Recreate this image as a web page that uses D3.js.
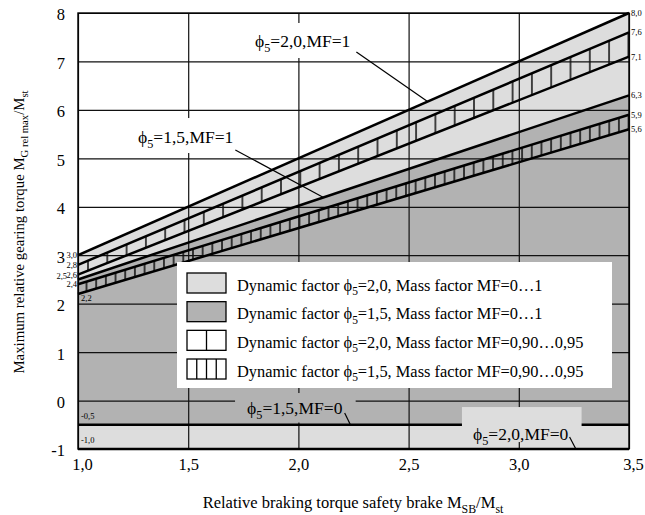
<!DOCTYPE html>
<html>
<head>
<meta charset="utf-8">
<script src="https://cdn.jsdelivr.net/npm/d3@7"></script>
<style>
  body { margin: 0; background: #fff; }
  svg { display: block; }
  svg text { font-family: 'Liberation Serif', 'Times New Roman', serif; fill: #000; }
</style>
</head>
<body>
<div id="chart"></div>
<script>
'use strict'

// braking torque ratio at both ends of every line
const brakeRatio = [1.0, 3.5]

// gearing torque ratio at those two points, one pair per line
const phi20MF1 = [3.0, 8.0]
const phi20MF095 = [2.8, 7.6]
const phi20MF090 = [2.6, 7.1]
const phi15MF1 = [2.5, 6.3]
const phi15MF095 = [2.4, 5.9]
const phi15MF090 = [2.2, 5.6]
const phi15MF0 = [-0.5, -0.5]
const phi20MF0 = [-1.0, -1.0]

const xTicks = [1.0, 1.5, 2.0, 2.5, 3.0, 3.5]
const yTicks = [-1, 0, 1, 2, 3, 4, 5, 6, 7, 8]

const legendPhi = ['2,0', '1,5', '2,0', '1,5']
const legendMF = ['0…1', '0…1', '0,90…0,95', '0,90…0,95']

const lightGray = '#dddddd'
const darkGray = '#b2b2b2'

const width = 645
const height = 515
const plotLeft = 78
const plotRight = 629
const plotTop = 13
const plotBottom = 449

const locale = d3.formatLocale({ decimal: ',', thousands: '.', grouping: [3], currency: ['', ''], minus: '-' })
const fmt1 = locale.format('.1f')
const fmt0 = locale.format('d')

const x = d3.scaleLinear().domain([1, 3.5]).range([plotLeft, plotRight])
const y = d3.scaleLinear().domain([-1, 8]).range([plotBottom, plotTop])

const svg = d3.select('#chart').append('svg')
  .attr('width', width)
  .attr('height', height)

const defs = svg.append('defs')
hatch('hatchWide', 88, 19.3)
hatch('hatchDense', 86.5, 9.68)

function hatch (id, x0, step) {
  const p = defs.append('pattern')
    .attr('id', id)
    .attr('patternUnits', 'userSpaceOnUse')
    .attr('x', x0 - step / 2)
    .attr('y', 0)
    .attr('width', step)
    .attr('height', height)
  p.append('line')
    .attr('x1', step / 2)
    .attr('x2', step / 2)
    .attr('y1', 0)
    .attr('y2', height)
    .attr('stroke', '#000')
    .attr('stroke-width', 1.4)
}

function band (lo, hi) {
  return d3.area()
    .x(d => x(d))
    .y0((d, i) => y(lo[i]))
    .y1((d, i) => y(hi[i]))(brakeRatio)
}

// value of a line at some braking ratio
function valueAt (series, b) {
  return d3.scaleLinear().domain(brakeRatio).range(series)(b)
}

// text with phi and a subscript 5
function phiText (sel, before, after, size) {
  sel.append('tspan').text(before + 'ϕ')
  sel.append('tspan')
    .attr('font-size', size * 0.7)
    .attr('dy', size * 0.28)
    .text('5')
  sel.append('tspan')
    .attr('dy', -size * 0.28)
    .text(after)
}

// fills
svg.append('path').attr('d', band(phi20MF0, phi20MF1)).attr('fill', lightGray)
svg.append('path').attr('d', band(phi15MF0, phi15MF1)).attr('fill', darkGray)
svg.append('path').attr('d', band(phi20MF090, phi20MF095)).attr('fill', 'url(#hatchWide)')
svg.append('path').attr('d', band(phi15MF090, phi15MF095)).attr('fill', 'url(#hatchDense)')

// grid and tick labels
const xAxis = svg.append('g')
  .attr('transform', 'translate(0,' + plotBottom + ')')
  .call(d3.axisBottom(x).tickValues(xTicks).tickSize(-(plotBottom - plotTop)).tickPadding(9).tickFormat(fmt1))

const yAxis = svg.append('g')
  .attr('transform', 'translate(' + plotLeft + ',0)')
  .call(d3.axisLeft(y).tickValues(yTicks).tickSize(-(plotRight - plotLeft)).tickPadding(13).tickFormat(fmt0))

;[xAxis, yAxis].forEach(function (g) {
  g.attr('font-size', 16.5)
  g.select('.domain').remove()
  g.selectAll('.tick line').attr('stroke', '#111').attr('stroke-width', 1.2)
})
yAxis.selectAll('.tick text').attr('dy', '0.42em')
xAxis.selectAll('.tick text').attr('dx', d => d === 3.5 ? 4 : d === 1 ? 4 : 0)

// the lines
const allLines = [phi20MF1, phi20MF095, phi20MF090, phi15MF1, phi15MF095, phi15MF090, phi15MF0, phi20MF0]
const line = d3.line()
  .x((d, i) => x(brakeRatio[i]))
  .y(d => y(d))

svg.append('rect')
  .attr('x', plotLeft)
  .attr('y', plotTop)
  .attr('width', plotRight - plotLeft)
  .attr('height', plotBottom - plotTop)
  .attr('fill', 'none')
  .attr('stroke', '#000')
  .attr('stroke-width', 1.4)

svg.append('g')
  .selectAll('path')
  .data(allLines)
  .join('path')
  .attr('d', line)
  .attr('fill', 'none')
  .attr('stroke', '#000')
  .attr('stroke-width', 2.5)

// small end values
const small = svg.append('g').attr('font-size', 8.5)

small.selectAll('text.end')
  .data(allLines.slice(0, 6))
  .join('text')
  .attr('class', 'end')
  .attr('x', plotRight + 2)
  .attr('y', d => y(d[1]))
  .attr('dy', '0.35em')
  .text(d => fmt1(d[1]))

const startLabels = [
  [phi20MF1, 'out'], [phi20MF095, 'out'], [phi20MF090, 'out'], [phi15MF1, 'far'],
  [phi15MF095, 'out'], [phi15MF090, 'below'], [phi15MF0, 'above'], [phi20MF0, 'above']
]

small.selectAll('text.start')
  .data(startLabels)
  .join('text')
  .attr('class', 'start')
  .attr('text-anchor', d => d[1] === 'out' || d[1] === 'far' ? 'end' : 'start')
  .attr('x', d => d[1] === 'out' ? plotLeft - 1 : d[1] === 'far' ? plotLeft - 11 : plotLeft + 3)
  .attr('y', d => y(d[0][0]) + (d[1] === 'below' ? 4.5 : d[1] === 'above' ? -8.5 : d[1] === 'far' ? -3 : 0))
  .attr('dy', '0.35em')
  .text(d => fmt1(d[0][0]))

// annotations
const noteSize = 17.5
const notes = [
  { after: '=2,0,MF=1', at: [1.803, 7.298], fill: '#fff', box: [5, 24, 5, 11], lead: [6, 5], to: [2.586, phi20MF1] },
  { after: '=1,5,MF=1', at: [1.272, 5.316], fill: '#fff', box: [5, 25, 5, 10], lead: [2, 7], to: [2.114, phi15MF1] },
  { after: '=1,5,MF=0', at: [1.767, -0.278], fill: darkGray, box: [12, 21, 13, 8.5], lead: [2, -1], to: [2.236, phi15MF0] },
  { after: '=2,0,MF=0', at: [2.792, -0.815], fill: lightGray, box: [11, 33, 13, 2], lead: [1, -3], to: [3.259, phi20MF0] }
]

notes.forEach(function (n) {
  const g = svg.append('g')
  const tx = x(n.at[0])
  const ty = y(n.at[1])
  const rect = g.append('rect').attr('fill', n.fill)
  const t = g.append('text')
    .attr('x', tx)
    .attr('y', ty)
    .attr('font-size', noteSize)
  phiText(t, '', n.after, noteSize)
  const bb = t.node().getBBox()
  rect
    .attr('x', bb.x - n.box[0])
    .attr('y', ty - n.box[1])
    .attr('width', bb.width + n.box[0] + n.box[2])
    .attr('height', n.box[1] + n.box[3])
  g.append('line')
    .attr('x1', bb.x + bb.width + n.lead[0])
    .attr('y1', ty + n.lead[1])
    .attr('x2', x(n.to[0]))
    .attr('y2', y(valueAt(n.to[1], n.to[0])))
    .attr('stroke', '#000')
    .attr('stroke-width', 1.2)
})

// legend
const legend = svg.append('g')
legend.append('rect')
  .attr('x', 177)
  .attr('y', 262)
  .attr('width', 435)
  .attr('height', 126)
  .attr('fill', '#fff')

const swatchFill = [lightGray, darkGray, '#fff', '#fff']
const swatchCells = [1, 1, 2, 4]

legendPhi.forEach(function (phi, i) {
  const row = legend.append('g').attr('transform', 'translate(187,' + (273 + i * 28.67) + ')')
  row.append('rect')
    .attr('width', 39)
    .attr('height', 20)
    .attr('fill', swatchFill[i])
    .attr('stroke', '#000')
    .attr('stroke-width', 1.3)
  d3.range(1, swatchCells[i]).forEach(function (k) {
    const cx = 39 * k / swatchCells[i]
    row.append('line')
      .attr('x1', cx)
      .attr('x2', cx)
      .attr('y1', 0)
      .attr('y2', 20)
      .attr('stroke', '#000')
      .attr('stroke-width', 1.3)
  })
  const t = row.append('text')
    .attr('x', 50)
    .attr('y', 17.5)
    .attr('font-size', 16.4)
  phiText(t, 'Dynamic factor ', '=' + phi + ', Mass factor MF=' + legendMF[i], 16.4)
})

// axis titles
function withSubs (sel, parts, size) {
  parts.forEach(function (p, i) {
    const sub = i % 2 === 1
    sel.append('tspan')
      .attr('font-size', sub ? size * 0.72 : size)
      .attr('dy', i === 0 ? 0 : sub ? size * 0.28 : -size * 0.28)
      .text(p)
  })
}

const xTitle = svg.append('text')
  .attr('x', 353)
  .attr('y', 508)
  .attr('text-anchor', 'middle')
  .attr('font-size', 16.5)
withSubs(xTitle, ['Relative braking torque safety brake M', 'SB', '/M', 'st'], 16.5)

const yTitle = svg.append('text')
  .attr('transform', 'translate(24,232) rotate(-90)')
  .attr('text-anchor', 'middle')
  .attr('font-size', 14.8)
withSubs(yTitle, ['Maximum relative gearing torque M', 'G rel max', '/M', 'st'], 14.8)
</script>
</body>
</html>
